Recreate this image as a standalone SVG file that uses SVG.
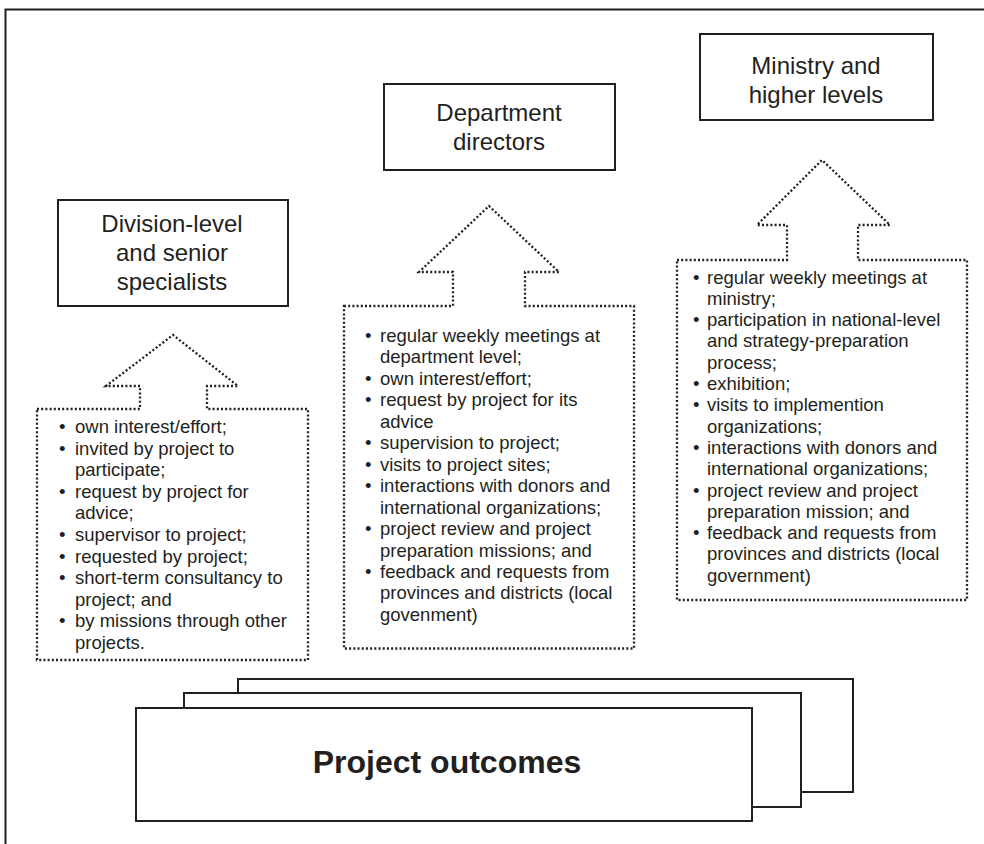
<svg xmlns="http://www.w3.org/2000/svg" width="984" height="844" viewBox="0 0 984 844">
<style>
.frame{fill:none;stroke:#231f20;stroke-width:2}
.box{fill:#fff;stroke:#231f20;stroke-width:2}
.dot{fill:#fff;stroke:#231f20;stroke-width:2.3;stroke-dasharray:2 2.2}
.t{font-family:"Liberation Sans",Arial,sans-serif;font-size:24px;fill:#231f20;text-anchor:middle}
.b{font-family:"Liberation Sans",Arial,sans-serif;font-size:18.5px;fill:#231f20}
.big{font-family:"Liberation Sans",Arial,sans-serif;font-size:32px;font-weight:bold;fill:#231f20;text-anchor:middle}
</style>
<rect width="984" height="844" fill="#fff"/>
<path class="frame" d="M5.5,844 V9.5 H984"/>

<g id="division">
<rect class="box" x="58" y="200" width="230" height="106"/>
<text class="t"><tspan x="172" y="232">Division-level</tspan><tspan x="172" y="261">and senior</tspan><tspan x="172" y="290">specialists</tspan></text>
</g>

<g id="department">
<rect class="box" x="384" y="84" width="231" height="86"/>
<text class="t"><tspan x="499" y="121">Department</tspan><tspan x="499" y="150">directors</tspan></text>
</g>

<g id="ministry">
<rect class="box" x="700" y="34" width="233" height="86"/>
<text class="t"><tspan x="816" y="74">Ministry and</tspan><tspan x="816" y="103">higher levels</tspan></text>
</g>

<g id="connectors">
<path id="arrow-left" class="dot" d="M37,409 H140 V386 H106 L173,335 L238,386 H207 V409 H308 V660 H37 Z"/>
<path id="arrow-middle" class="dot" d="M344,306 H453 V272 H419 L489,206 L559,272 H525 V306 H634 V648.5 H344 Z"/>
<path id="arrow-right" class="dot" d="M677,260 H787 V225 H757 L822,160 L890,225 H858 V260 H967 V600 H677 Z"/>
</g>

<g id="left-list">
<text class="b"><tspan x="59" y="433">•</tspan><tspan x="59" y="497.8">•</tspan><tspan x="59" y="541">•</tspan><tspan x="59" y="562.6">•</tspan><tspan x="59" y="584.2">•</tspan><tspan x="59" y="627.4">•</tspan><tspan x="59" y="454.6">•</tspan></text>
<text class="b">
<tspan x="75" y="433">own interest/effort;</tspan>
<tspan x="75" y="454.6">invited by project to</tspan>
<tspan x="75" y="476.2">participate;</tspan>
<tspan x="75" y="497.8">request by project for</tspan>
<tspan x="75" y="519.4">advice;</tspan>
<tspan x="75" y="541">supervisor to project;</tspan>
<tspan x="75" y="562.6">requested by project;</tspan>
<tspan x="75" y="584.2">short-term consultancy to</tspan>
<tspan x="75" y="605.8">project; and</tspan>
<tspan x="75" y="627.4">by missions through other</tspan>
<tspan x="75" y="649">projects.</tspan>
</text>
</g>

<g id="middle-list">
<text class="b"><tspan x="365" y="342">•</tspan><tspan x="365" y="384.9">•</tspan><tspan x="365" y="406.4">•</tspan><tspan x="365" y="449.3">•</tspan><tspan x="365" y="470.7">•</tspan><tspan x="365" y="492.2">•</tspan><tspan x="365" y="535.1">•</tspan><tspan x="365" y="578">•</tspan></text>
<text class="b">
<tspan x="380" y="342">regular weekly meetings at</tspan>
<tspan x="380" y="363.4">department level;</tspan>
<tspan x="380" y="384.9">own interest/effort;</tspan>
<tspan x="380" y="406.4">request by project for its</tspan>
<tspan x="380" y="427.8">advice</tspan>
<tspan x="380" y="449.3">supervision to project;</tspan>
<tspan x="380" y="470.7">visits to project sites;</tspan>
<tspan x="380" y="492.2">interactions with donors and</tspan>
<tspan x="380" y="513.6">international organizations;</tspan>
<tspan x="380" y="535.1">project review and project</tspan>
<tspan x="380" y="556.5">preparation missions; and</tspan>
<tspan x="380" y="578">feedback and requests from</tspan>
<tspan x="380" y="599.4">provinces and districts (local</tspan>
<tspan x="380" y="620.9">govenment)</tspan>
</text>
</g>

<g id="right-list">
<text class="b"><tspan x="693" y="283.5">•</tspan><tspan x="693" y="326.1">•</tspan><tspan x="693" y="390">•</tspan><tspan x="693" y="411.3">•</tspan><tspan x="693" y="453.9">•</tspan><tspan x="693" y="496.5">•</tspan><tspan x="693" y="539.1">•</tspan></text>
<text class="b">
<tspan x="707" y="283.5">regular weekly meetings at</tspan>
<tspan x="707" y="304.8">ministry;</tspan>
<tspan x="707" y="326.1">participation in national-level</tspan>
<tspan x="707" y="347.4">and strategy-preparation</tspan>
<tspan x="707" y="368.7">process;</tspan>
<tspan x="707" y="390">exhibition;</tspan>
<tspan x="707" y="411.3">visits to implemention</tspan>
<tspan x="707" y="432.6">organizations;</tspan>
<tspan x="707" y="453.9">interactions with donors and</tspan>
<tspan x="707" y="475.2">international organizations;</tspan>
<tspan x="707" y="496.5">project review and project</tspan>
<tspan x="707" y="517.8">preparation mission; and</tspan>
<tspan x="707" y="539.1">feedback and requests from</tspan>
<tspan x="707" y="560.4">provinces and districts (local</tspan>
<tspan x="707" y="581.7">government)</tspan>
</text>
</g>

<g id="outcomes">
<rect class="box" x="238" y="679" width="615" height="113"/>
<rect class="box" x="184" y="693" width="617" height="114"/>
<rect class="box" x="136" y="708" width="616" height="113"/>
<text class="big" x="447" y="773">Project outcomes</text>
</g>
</svg>
